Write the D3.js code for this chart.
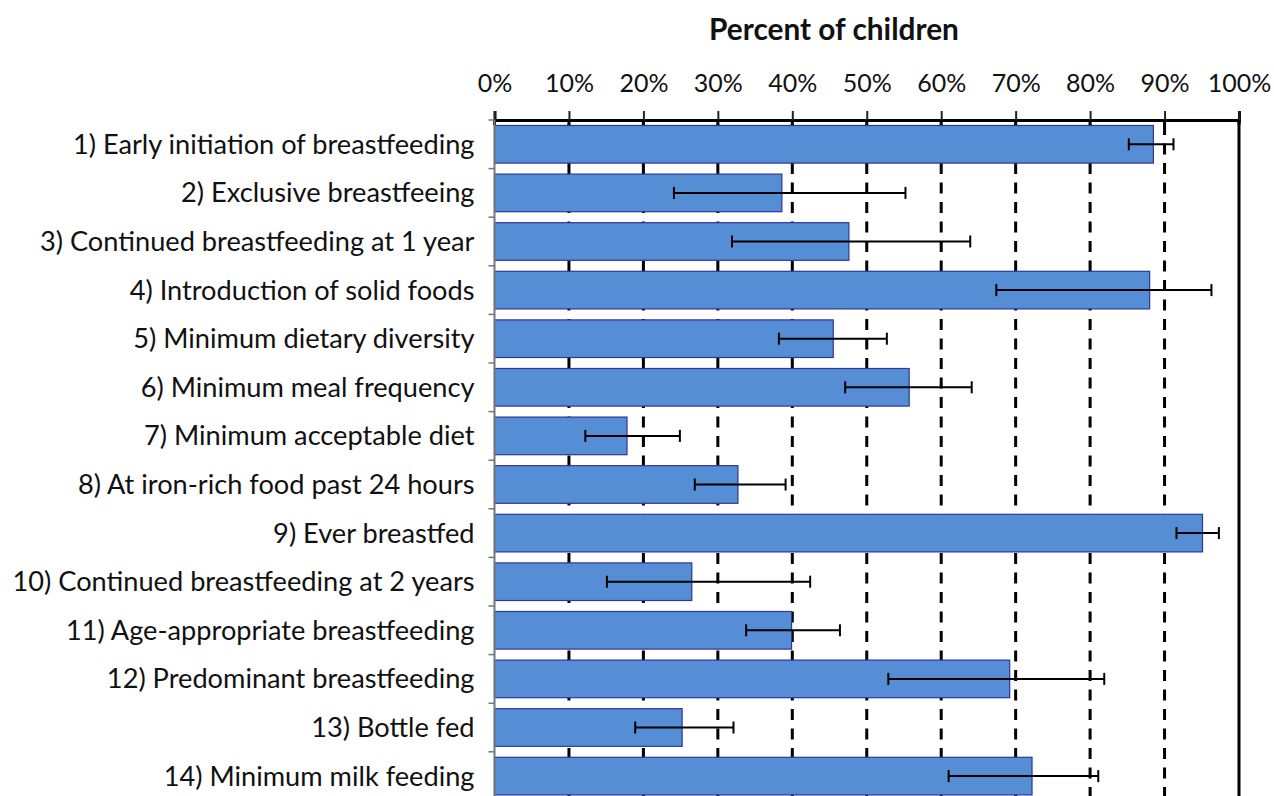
<!DOCTYPE html>
<html>
<head>
<meta charset="utf-8">
<script src="https://cdn.jsdelivr.net/npm/d3@7"></script>
<style>
  body { margin: 0; background: #fff; }
  svg { display: block; }
  .lbl { font-family: Lato, "Open Sans", sans-serif; fill: #111; }
</style>
</head>
<body>
<div id="viz"></div>
<script>
// Indicator names, as on the y axis
var categories = [
  "1) Early initiation of breastfeeding",
  "2) Exclusive breastfeeing",
  "3) Continued breastfeeding at 1 year",
  "4) Introduction of solid foods",
  "5) Minimum dietary diversity",
  "6) Minimum meal frequency",
  "7) Minimum acceptable diet",
  "8) At iron-rich food past 24 hours",
  "9) Ever breastfed",
  "10) Continued breastfeeding at 2 years",
  "11) Age-appropriate breastfeeding",
  "12) Predominant breastfeeding",
  "13) Bottle fed",
  "14) Minimum milk feeding"
];

// Percent of children (bar) with lower / upper confidence limits
var values = [88.5, 38.6, 47.6, 88.0, 45.5, 55.7, 17.8, 32.7, 95.1, 26.5, 39.9, 69.2, 25.2, 72.2];
var lower  = [85.2, 24.1, 31.9, 67.4, 38.2, 47.1, 12.2, 26.9, 91.6, 15.1, 33.8, 52.9, 18.9, 61.0];
var upper  = [91.2, 55.2, 63.9, 96.3, 52.7, 64.1, 24.9, 39.1, 97.3, 42.4, 46.4, 81.9, 32.1, 81.1];

var xTicks = [0, 10, 20, 30, 40, 50, 60, 70, 80, 90, 100];

var W = 1274, H = 796;
var margin = {top: 120, left: 494.5};
var plotW = 744.5;
var band = 48.6;
var plotH = band * categories.length;

var data = categories.map(function (c, i) {
  return {name: c, value: values[i], lo: lower[i], hi: upper[i]};
});

var svg = d3.select("#viz").append("svg")
  .attr("width", W)
  .attr("height", H);

var g = svg.append("g")
  .attr("transform", "translate(" + margin.left + "," + margin.top + ")");

var x = d3.scaleLinear().domain([0, 100]).range([0, plotW]);
var y = d3.scaleBand().domain(categories).range([0, plotH]).paddingInner(0.226).paddingOuter(0.113);

// dashed gridlines (behind the bars)
g.selectAll(".grid")
  .data(xTicks.filter(function (t) { return t > 0 && t < 100; }))
  .enter().append("line")
  .attr("x1", function (d) { return x(d); })
  .attr("x2", function (d) { return x(d); })
  .attr("y1", 0)
  .attr("y2", plotH)
  .attr("stroke", "#000")
  .attr("stroke-width", 3)
  .attr("stroke-dasharray", "11,8.5")
  .attr("stroke-dashoffset", -4);

// short solid ticks just under the top axis
g.selectAll(".tin")
  .data(xTicks)
  .enter().append("line")
  .attr("x1", function (d) { return x(d); })
  .attr("x2", function (d) { return x(d); })
  .attr("y1", 0)
  .attr("y2", 5)
  .attr("stroke", "#000")
  .attr("stroke-width", 3);

// bars
g.selectAll(".bar")
  .data(data)
  .enter().append("rect")
  .attr("x", x(0))
  .attr("y", function (d) { return y(d.name); })
  .attr("width", function (d) { return x(d.value) - x(0); })
  .attr("height", y.bandwidth())
  .attr("fill", "#558ed5")
  .attr("stroke", "#2f3699")
  .attr("stroke-width", 1.2);

// error bars
var err = g.selectAll(".err")
  .data(data)
  .enter().append("g")
  .attr("transform", function (d) { return "translate(0," + (y(d.name) + y.bandwidth() / 2) + ")"; });

err.append("line")
  .attr("x1", function (d) { return x(d.lo); })
  .attr("x2", function (d) { return x(d.hi); })
  .attr("stroke", "#000")
  .attr("stroke-width", 2);

err.selectAll(".cap")
  .data(function (d) { return [d.lo, d.hi]; })
  .enter().append("line")
  .attr("x1", function (d) { return x(d); })
  .attr("x2", function (d) { return x(d); })
  .attr("y1", -6)
  .attr("y2", 6)
  .attr("stroke", "#000")
  .attr("stroke-width", 2);

// right border at 100%
g.append("line")
  .attr("x1", x(100)).attr("x2", x(100))
  .attr("y1", 0).attr("y2", plotH)
  .attr("stroke", "#000")
  .attr("stroke-width", 3);

// top axis
var xAxis = d3.axisTop(x)
  .tickValues(xTicks)
  .tickSize(9)
  .tickPadding(19)
  .tickFormat(function (d) { return d + "%"; });

var gx = g.append("g").call(xAxis);
gx.select(".domain").attr("stroke", "#000").attr("stroke-width", 3);
gx.selectAll(".tick line").attr("stroke", "#222").attr("stroke-width", 2);
gx.selectAll(".tick text")
  .attr("class", "lbl")
  .style("font-size", "25px");

// left axis, with ticks at band boundaries
var gy = g.append("g");
gy.append("line")
  .attr("x1", 0).attr("x2", 0)
  .attr("y1", 0).attr("y2", plotH)
  .attr("stroke", "#777")
  .attr("stroke-width", 2);

gy.selectAll(".ytick")
  .data(d3.range(categories.length + 1))
  .enter().append("line")
  .attr("x1", -6).attr("x2", 0)
  .attr("y1", function (i) { return i * band; })
  .attr("y2", function (i) { return i * band; })
  .attr("stroke", "#777")
  .attr("stroke-width", 1.5);

gy.selectAll(".ylab")
  .data(categories)
  .enter().append("text")
  .attr("class", "lbl")
  .attr("x", -20)
  .attr("y", function (d) { return y(d) + y.bandwidth() / 2; })
  .attr("dy", "0.35em")
  .attr("text-anchor", "end")
  .style("font-size", "27.2px")
  .text(function (d) { return d; });

// axis title
svg.append("text")
  .attr("class", "lbl")
  .attr("x", 834)
  .attr("y", 40)
  .attr("text-anchor", "middle")
  .style("font-size", "29.8px")
  .style("font-weight", "bold")
  .text("Percent of children");
</script>
</body>
</html>
